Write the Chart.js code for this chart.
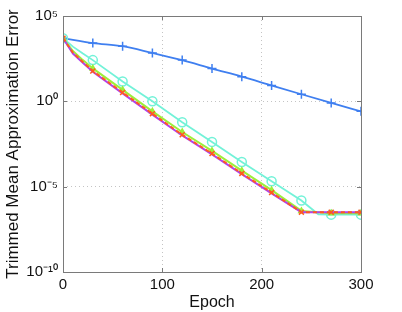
<!DOCTYPE html>
<html>
<head>
<meta charset="utf-8">
<script src="https://cdn.jsdelivr.net/npm/chart.js@4/dist/chart.umd.min.js"></script>
<style>
html,body{margin:0;padding:0;background:#fff;}
#wrap{width:402px;height:312px;}
</style>
</head>
<body>
<div id="wrap"><canvas id="c" width="402" height="312"></canvas></div>
<script>
// ---- data ----
const epochsBlue = [0, 30, 60, 90, 120, 150, 180, 210, 240, 270, 300];
const blueVals = [5.0e3, 2.6e3, 1.7e3, 6.8e2, 2.6e2, 83, 28, 8.5, 2.6, 0.81, 0.26];

const epochsFine = [0, 10, 20, 30, 60, 90, 120, 150, 180, 210, 240, 270, 300];
const orangeVals = [5.0e3, 7.1e2, 2.0e2, 60, 3.3, 0.19, 1.1e-2, 8.7e-4, 6.0e-5, 4.5e-6, 3.2e-7, 3.2e-7, 3.2e-7];
const purpleVals = [5.0e3, 6.3e2, 1.8e2, 54, 2.95, 0.166, 1.0e-2, 7.8e-4, 5.4e-5, 4.0e-6, 3.2e-7, 3.2e-7, 3.2e-7];
const greenVals  = [5.0e3, 8.9e2, 2.6e2, 85, 4.7, 0.26, 1.6e-2, 1.26e-3, 8.7e-5, 6.3e-6, 3.8e-7, 2.8e-7, 2.8e-7];

const epochsCyan = [0, 10, 20, 30, 60, 90, 120, 150, 180, 210, 240, 257, 270, 300];
const cyanVals   = [5.0e3, 1.6e3, 6.3e2, 2.6e2, 14.5, 1.0, 6.0e-2, 4.2e-3, 2.8e-4, 2.1e-5, 1.55e-6, 2.4e-7, 2.3e-7, 2.3e-7];

const xTicks = [0, 100, 200, 300];
const yTicks = [1e-10, 1e-5, 1e0, 1e5];
const yTickLabels = {'-10': '10⁻¹⁰', '-5': '10⁻⁵', '0': '10⁰', '5': '10⁵'};
const xTitle = 'Epoch';
const yTitle = 'Trimmed Mean Approximation Error';

function pts(xs, ys) { return xs.map((x, i) => ({x: x, y: ys[i]})); }
function markerRadius(r) {
  return ctx => {
    const raw = ctx.raw;
    return raw && raw.x % 30 === 0 ? r : 0;
  };
}

const boxPlugin = {
  id: 'box',
  afterDatasetsDraw(chart) {
    const {ctx, chartArea: a, scales} = chart;
    ctx.save();
    ctx.strokeStyle = '#7a7a7a';
    ctx.lineWidth = 1;
    ctx.strokeRect(Math.round(a.left) + 0.5, Math.round(a.top) + 0.5, Math.round(a.right - a.left), Math.round(a.bottom - a.top));
    // inward tick marks
    ctx.beginPath();
    xTicks.forEach(v => {
      const px = Math.round(scales.x.getPixelForValue(v)) + 0.5;
      ctx.moveTo(px, a.bottom); ctx.lineTo(px, a.bottom - 4);
      ctx.moveTo(px, a.top); ctx.lineTo(px, a.top + 4);
    });
    yTicks.forEach(v => {
      const py = Math.round(scales.y.getPixelForValue(v)) + 0.5;
      ctx.moveTo(a.left, py); ctx.lineTo(a.left + 4, py);
      ctx.moveTo(a.right, py); ctx.lineTo(a.right - 4, py);
    });
    ctx.stroke();
    ctx.restore();
  }
};

const font = 'Liberation Sans, Arial, Helvetica, sans-serif';

new Chart(document.getElementById('c'), {
  type: 'line',
  data: {
    datasets: [
      {label: 'orange', data: pts(epochsFine, orangeVals), borderColor: '#ff5a1f', backgroundColor: '#ff5a1f',
       borderWidth: 2, borderDash: [4, 3], pointStyle: 'crossRot', pointRadius: markerRadius(3.5), pointBorderWidth: 1.5, order: 0},
      {label: 'purple', data: pts(epochsFine, purpleVals), borderColor: '#b042ee', backgroundColor: '#b042ee',
       borderWidth: 2, pointRadius: 0, order: 1},
      {label: 'green', data: pts(epochsFine, greenVals), borderColor: '#9cef3a', backgroundColor: '#9cef3a',
       borderWidth: 2, pointStyle: 'triangle', pointRadius: markerRadius(3), pointBorderWidth: 1.5, order: 2},
      {label: 'cyan', data: pts(epochsCyan, cyanVals), borderColor: '#72f2d8', backgroundColor: 'rgba(0,0,0,0)',
       borderWidth: 1.8, pointStyle: 'circle', pointRadius: markerRadius(4.5), pointBorderWidth: 1.5, order: 3},
      {label: 'blue', data: pts(epochsBlue, blueVals), borderColor: '#3f7ff0', backgroundColor: '#3f7ff0',
       borderWidth: 1.8, pointStyle: 'cross', pointRadius: 4.5, pointBorderWidth: 1.5, order: 4, cubicInterpolationMode: 'monotone'}
    ]
  },
  options: {
    responsive: false,
    animation: false,
    devicePixelRatio: 1,
    layout: {padding: {top: 16, right: 41, left: 0, bottom: 0}},
    plugins: {legend: {display: false}, tooltip: {enabled: false}},
    elements: {line: {tension: 0}},
    scales: {
      x: {
        type: 'linear', min: 0, max: 300,
        afterBuildTicks: s => { s.ticks = xTicks.map(v => ({value: v})); },
        afterFit: s => { s.height = 40; },
        ticks: {color: '#111', font: {family: font, size: 15}, padding: 4, maxRotation: 0},
        grid: {color: '#c4c4c4', drawTicks: false, tickLength: 0, lineWidth: 1},
        border: {display: false, dash: [1, 3]},
        title: {display: true, text: xTitle, color: '#111', font: {family: font, size: 16}, padding: {top: 0, bottom: 0}}
      },
      y: {
        type: 'logarithmic', min: 1e-10, max: 1e5,
        afterBuildTicks: s => { s.ticks = yTicks.map(v => ({value: v})); },
        afterFit: s => { s.width = 63; },
        ticks: {color: '#111', font: {family: font, size: 15}, padding: 5,
                callback: v => yTickLabels[String(Math.round(Math.log10(v)))]},
        grid: {color: '#c4c4c4', drawTicks: false, tickLength: 0, lineWidth: 1},
        border: {display: false, dash: [1, 3]},
        title: {display: true, text: yTitle, color: '#111', font: {family: font, size: 17}, padding: {top: 3, bottom: 0}}
      }
    }
  },
  plugins: [boxPlugin]
});
</script>
</body>
</html>
